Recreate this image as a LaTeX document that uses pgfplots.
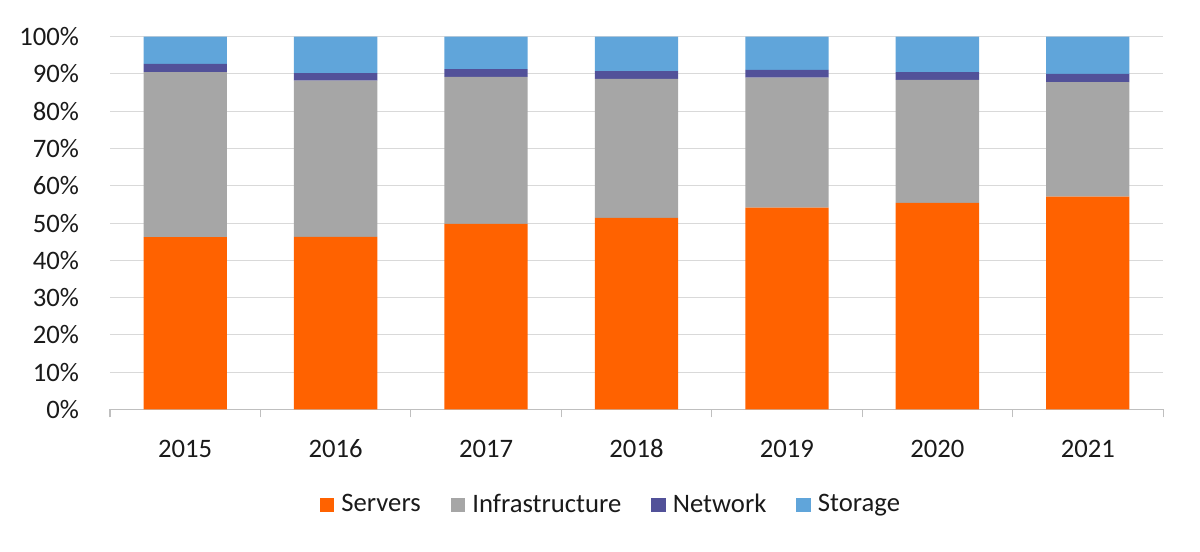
\documentclass[border=0pt]{standalone}
\usepackage{pgfplots}
\pgfplotsset{compat=1.18}
\usepackage{fontspec}
\setmainfont{Carlito}
\definecolor{cServ}{HTML}{FF6200}
\definecolor{cInfra}{HTML}{A6A6A6}
\definecolor{cNet}{HTML}{525199}
\definecolor{cStor}{HTML}{60A5DA}
\definecolor{gridgray}{HTML}{D9D9D9}
\definecolor{axisgray}{HTML}{BFBFBF}
\definecolor{txt}{HTML}{1A1A1A}
\pgfplotsset{sq/.style={legend image code/.code={\fill[##1,draw=none] (0pt,-5.45pt) rectangle (10.9pt,5.45pt);}}}
\begin{document}
\fontsize{20pt}{24pt}\selectfont
\begin{tikzpicture}
\useasboundingbox (0,0) rectangle (900pt,414pt);
\begin{axis}[
  at={(82.5pt,107pt)}, anchor=south west, scale only axis,
  width=789.75pt, height=279.45pt,
  ybar stacked, bar width=62.5pt,
  xmin=-0.5, xmax=6.5, ymin=0, ymax=100,
  axis x line*=bottom, axis y line*=left,
  x axis line style={-, color=axisgray, line width=0.75pt},
  y axis line style={draw=none},
  xtick={0,...,6}, xticklabels={2015,2016,2017,2018,2019,2020,2021},
  minor xtick={-0.5,0.5,...,6.5},
  major x tick style={draw=none},
  minor x tick style={color=axisgray, line width=0.75pt},
  minor tick length=6pt, tick align=outside,
  ytick={0,10,...,100},
  yticklabels={0\%,10\%,20\%,30\%,40\%,50\%,60\%,70\%,80\%,90\%,100\%},
  ytick style={draw=none},
  ymajorgrids, grid style={gridgray, line width=0.75pt},
  yticklabel style={anchor=east, inner sep=0pt, xshift=-18.75pt, text=txt},
  xticklabel style={anchor=base, inner sep=0pt, yshift=-31.8pt, text=txt},
  legend style={at={(0.4748,-0.2568)}, anchor=center, draw=none, fill=none,
    nodes={inner sep=0pt, text=txt}, column sep=5.25pt,
    /tikz/every even column/.append style={column sep=22.5pt}},
  legend columns=-1,
]
\addplot[fill=cServ, draw=none, sq]
  coordinates {(0,46.2) (1,46.3) (2,49.8) (3,51.4) (4,54.1) (5,55.4) (6,57.1)};
\addplot[fill=cInfra, draw=none, sq]
  coordinates {(0,44.3) (1,41.9) (2,39.4) (3,37.3) (4,34.9) (5,33.0) (6,30.7)};
\addplot[fill=cNet, draw=none, sq]
  coordinates {(0,2.2) (1,2.0) (2,2.1) (3,2.1) (4,2.1) (5,2.1) (6,2.2)};
\addplot[fill=cStor, draw=none, sq]
  coordinates {(0,7.3) (1,9.8) (2,8.7) (3,9.2) (4,8.9) (5,9.5) (6,10.0)};
\legend{Servers,Infrastructure,Network,Storage}
\end{axis}
\end{tikzpicture}
\end{document}
